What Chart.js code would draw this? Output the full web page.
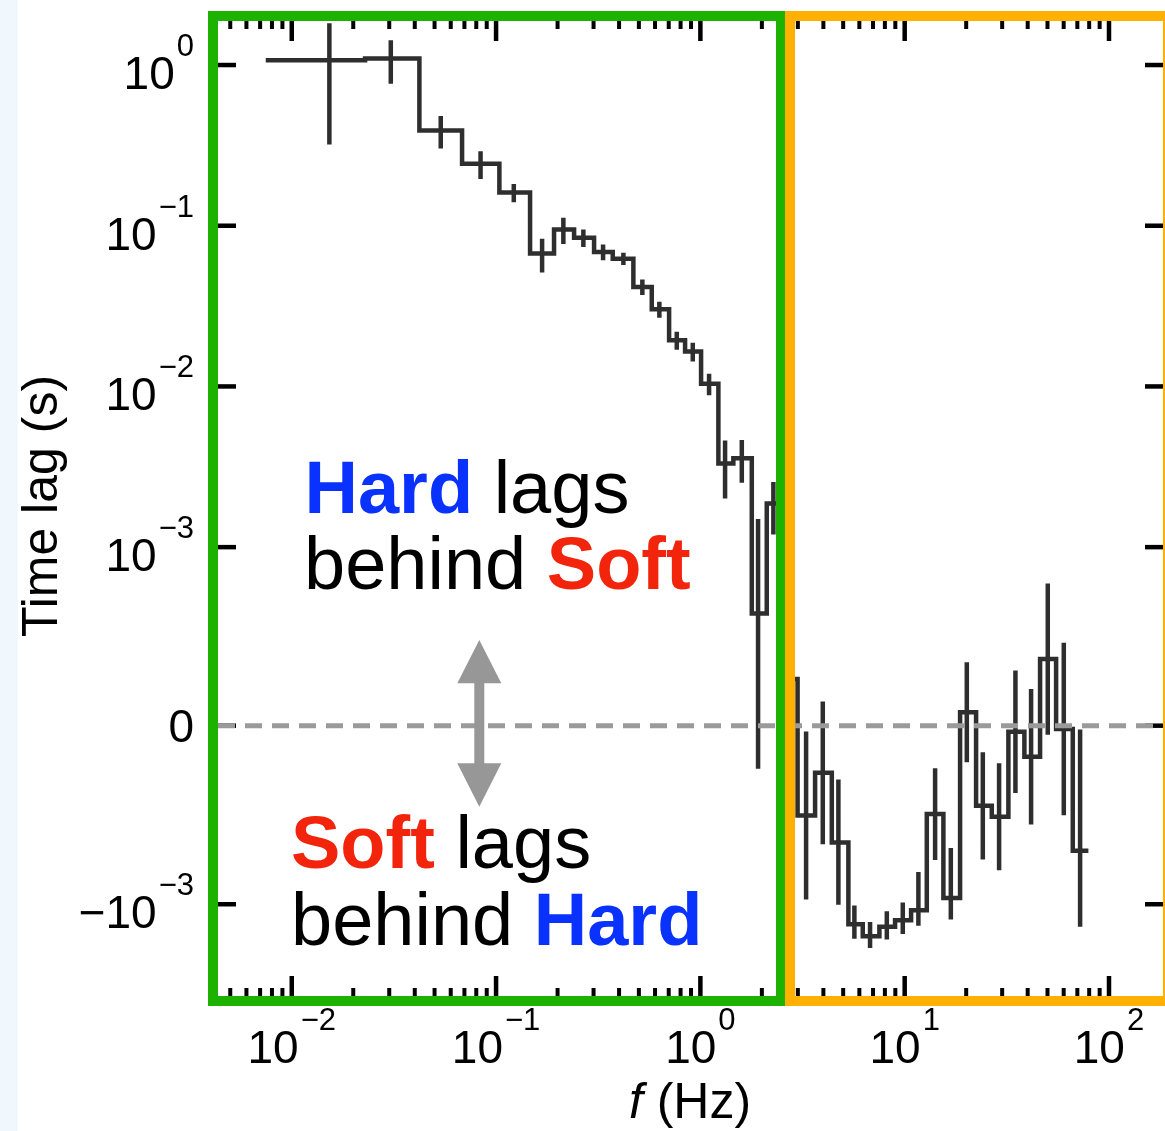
<!DOCTYPE html>
<html>
<head>
<meta charset="utf-8">
<script src="https://cdn.jsdelivr.net/npm/chart.js@4.4.1/dist/chart.umd.min.js"></script>
<style>
  html, body { margin: 0; padding: 0; background: #ffffff; }
  canvas { display: block; }
</style>
</head>
<body>
<canvas id="c" width="1165" height="1131"></canvas>
<script>
// ---------------- data ----------------
// frequency bin edges (Hz), 39 edges -> 38 bins
const binEdges = [0.00746, 0.02285, 0.04214, 0.06817, 0.1038, 0.1467, 0.1922, 0.2409, 0.3018, 0.3725,
  0.4700, 0.5782, 0.7029, 0.8416, 1.008, 1.225, 1.450, 1.785, 2.113, 2.455,
  2.991, 3.643, 4.398, 5.302, 6.235, 7.520, 8.974, 10.75, 12.83, 15.47,
  18.67, 22.36, 26.69, 32.18, 38.54, 45.99, 55.10, 66.49, 79.29];
// representative frequency of each bin (Hz) where the error bar sits
const binCenters = [0.01528, 0.03053, 0.05361, 0.08396, 0.1221, 0.1680, 0.2135, 0.2675, 0.3340, 0.4200,
  0.5200, 0.6299, 0.7664, 0.9179, 1.103, 1.321, 1.595, 1.916, 2.277, 2.718,
  3.292, 3.973, 4.737, 5.673, 6.769, 8.176, 9.788, 11.67, 14.09, 16.82,
  20.14, 24.12, 28.98, 34.84, 41.56, 50.16, 60.08, 72.21];
// time lag (s)
const timeLags = [1.07, 1.096, 0.392, 0.243, 0.161, 0.0671, 0.0946, 0.0843, 0.0686, 0.0624,
  0.0416, 0.0302, 0.0194, 0.0165, 0.0104, 0.00331, 0.00358, 0.000629, 0.00187, 0.000261,
  -0.000503, -0.000264, -0.000654, -0.00133, -0.00158, -0.00138, -0.00126, -0.00109, -0.000495, -0.000965,
  0.000075, -0.000449, -0.000510, -0.0000337, -0.000174, 0.000373, -0.0000185, -0.000701];
// 1-sigma error of the time lag (s)
const lagErrors = [0.75, 0.33, 0.09, 0.048, 0.021, 0.016, 0.0176, 0.0105, 0.0077, 0.0055,
  0.0046, 0.0034, 0.0025, 0.0022, 0.0016, 0.0013, 0.00106, 0.00087, 0.00067, 0.0008,
  0.00047, 0.0004, 0.000353, 0.00031, 0.00029, 0.000275, 0.00027, 0.00027, 0.000257, 0.00028,
  0.00028, 0.0003, 0.0003, 0.000343, 0.00038, 0.000424, 0.000483, 0.00068];

// axis ticks and labels
const xMajorTicks = [0.01, 0.1, 1, 10, 100];
const xTickLabels = [['10', '\u22122'], ['10', '\u22121'], ['10', '0'], ['10', '1'], ['10', '2']];
const yTickValues = [1, 0.1, 0.01, 0.001, 0, -0.001];
const yTickLabels = [['10', '0'], ['10', '\u22121'], ['10', '\u22122'], ['10', '\u22123'], ['0', ''], ['\u221210', '\u22123']];

// axis ranges
const X_MIN = 0.004355, X_MAX = 183.8;
const Y_MIN = -0.003724, Y_MAX = 1.879;
const LIN_THRESH = 1e-3;   // symlog linear threshold
const LIN_SPAN = 1.111;    // size of the linear half-range, in decades

// ---------------- symlog scale ----------------
function symT(v) {
  const a = Math.abs(v);
  if (a <= LIN_THRESH) return v / LIN_THRESH * LIN_SPAN;
  return Math.sign(v) * (LIN_SPAN + Math.log10(a / LIN_THRESH));
}
function symInv(t) {
  const a = Math.abs(t);
  if (a <= LIN_SPAN) return t / LIN_SPAN * LIN_THRESH;
  return Math.sign(t) * LIN_THRESH * Math.pow(10, a - LIN_SPAN);
}
class SymlogScale extends Chart.Scale {
  determineDataLimits() { this.min = this.options.min; this.max = this.options.max; }
  buildTicks() { return yTickValues.map(v => ({ value: v })); }
  getLabelForValue(v) { return String(v); }
  configure() {
    super.configure();
    this._t0 = symT(this.min);
    this._t1 = symT(this.max);
  }
  getPixelForValue(v) { return this.getPixelForDecimal((symT(v) - this._t0) / (this._t1 - this._t0)); }
  getValueForPixel(p) { return symInv(this._t0 + this.getDecimalForPixel(p) * (this._t1 - this._t0)); }
}
SymlogScale.id = 'symlog';
SymlogScale.defaults = {};
Chart.register(SymlogScale);

// ---------------- build datasets from the arrays ----------------
const N = timeLags.length;
const stepPoints = [];
for (let i = 0; i < N; i++) {
  stepPoints.push({ x: binEdges[i], y: timeLags[i] });
  stepPoints.push({ x: binEdges[i + 1], y: timeLags[i] });
}
const errPoints = [];
for (let i = 0; i < N; i++) {
  errPoints.push({ x: binCenters[i], y: timeLags[i] - lagErrors[i] });
  errPoints.push({ x: binCenters[i], y: timeLags[i] + lagErrors[i] });
  errPoints.push({ x: binCenters[i], y: null });
}

const FONT = '"Liberation Sans", Arial, Helvetica, sans-serif';
const MAIN_PX = 46, SUP_PX = 31, TITLE_PX = 50;

function drawPower(ctx, base, exp, x, baseline, align) {
  ctx.font = MAIN_PX + 'px ' + FONT;
  const wb = ctx.measureText(base).width;
  ctx.font = SUP_PX + 'px ' + FONT;
  const we = exp ? ctx.measureText(exp).width + 2 : 0;
  const total = wb + we;
  const x0 = align === 'center' ? x - total / 2 : x - total;
  ctx.textAlign = 'left';
  ctx.textBaseline = 'alphabetic';
  ctx.fillStyle = '#000';
  ctx.font = MAIN_PX + 'px ' + FONT;
  ctx.fillText(base, x0, baseline);
  if (exp) {
    ctx.font = SUP_PX + 'px ' + FONT;
    ctx.fillText(exp, x0 + wb + 2, baseline - 33);
  }
}

function drawRuns(ctx, x, baseline, runs, px) {
  let cx = x;
  ctx.textAlign = 'left';
  ctx.textBaseline = 'alphabetic';
  for (const r of runs) {
    ctx.font = (r.bold ? 'bold ' : '') + (r.italic ? 'italic ' : '') + px + 'px ' + FONT;
    ctx.fillStyle = r.color;
    ctx.fillText(r.t, cx, baseline);
    cx += ctx.measureText(r.t).width;
  }
  return cx;
}

const BLUE = '#0a32ff', RED = '#f2240c', BLACK = '#000000';

const decorPlugin = {
  id: 'decor',
  beforeDraw(chart) {
    const ctx = chart.ctx;
    ctx.save();
    ctx.fillStyle = '#ffffff';
    ctx.fillRect(0, 0, chart.width, chart.height);
    ctx.fillStyle = '#f0f8fe';
    ctx.fillRect(0, 0, 18, chart.height);
    ctx.restore();
  },
  beforeDatasetsDraw(chart) {
    const ctx = chart.ctx, xs = chart.scales.x, ys = chart.scales.y, a = chart.chartArea;
    ctx.save();
    ctx.strokeStyle = '#000';
    ctx.lineCap = 'butt';
    const seg = (x1, y1, x2, y2) => { ctx.beginPath(); ctx.moveTo(x1, y1); ctx.lineTo(x2, y2); ctx.stroke(); };
    for (let d = -3; d <= 2; d++) {
      for (let m = 1; m <= 9; m++) {
        const v = m * Math.pow(10, d);
        if (v < X_MIN || v > X_MAX) continue;
        const px = xs.getPixelForValue(v);
        const major = m === 1;
        const len = major ? 20 : 8;
        ctx.lineWidth = major ? 4.5 : 4;
        seg(px, a.top, px, a.top + len);
        seg(px, a.bottom, px, a.bottom - len);
      }
    }
    ctx.lineWidth = 4.5;
    yTickValues.forEach(v => {
      const py = ys.getPixelForValue(v);
      seg(a.left, py, a.left + 18, py);
      seg(a.right, py, a.right - 18, py);
    });
    ctx.restore();
  },
  afterDatasetsDraw(chart) {
    const ctx = chart.ctx;
    ctx.save();
    // coloured frames
    ctx.lineWidth = 10;
    ctx.lineJoin = 'miter';
    ctx.strokeStyle = '#1db200';
    ctx.strokeRect(213, 16, 568, 985);
    ctx.strokeStyle = '#ffb000';
    ctx.strokeRect(790, 16, 378, 985);
    ctx.restore();
  },
  afterDraw(chart) {
    const ctx = chart.ctx, xs = chart.scales.x, ys = chart.scales.y;
    ctx.save();
    // x tick labels
    xMajorTicks.forEach((v, i) => {
      drawPower(ctx, xTickLabels[i][0], xTickLabels[i][1], xs.getPixelForValue(v), 1063, 'center');
    });
    // y tick labels
    yTickValues.forEach((v, i) => {
      const py = ys.getPixelForValue(v);
      const lab = yTickLabels[i];
      if (lab[1]) drawPower(ctx, lab[0], lab[1], 194, py + 24, 'right');
      else drawPower(ctx, lab[0], '', 194, py + 16.5, 'right');
    });
    // axis titles
    ctx.save();
    ctx.translate(57, 506);
    ctx.rotate(-Math.PI / 2);
    ctx.font = TITLE_PX + 'px ' + FONT;
    ctx.fillStyle = '#000';
    ctx.textAlign = 'center';
    ctx.textBaseline = 'alphabetic';
    ctx.fillText('Time lag (s)', 0, 0);
    ctx.restore();
    {
      ctx.font = 'italic ' + TITLE_PX + 'px ' + FONT;
      const wf = ctx.measureText('f').width;
      ctx.font = TITLE_PX + 'px ' + FONT;
      const wr = ctx.measureText(' (Hz)').width;
      drawRuns(ctx, 690 - (wf + wr) / 2, 1118, [
        { t: 'f', color: BLACK, italic: true },
        { t: ' (Hz)', color: BLACK }
      ], TITLE_PX);
    }
    // annotations
    const TP = 74;
    drawRuns(ctx, 304.5, 513, [{ t: 'Hard', color: BLUE, bold: true }, { t: ' lags', color: BLACK }], TP);
    drawRuns(ctx, 304, 589, [{ t: 'behind ', color: BLACK }, { t: 'Soft', color: RED, bold: true }], TP);
    drawRuns(ctx, 291, 868, [{ t: 'Soft', color: RED, bold: true }, { t: ' lags', color: BLACK }], TP);
    drawRuns(ctx, 291, 945, [{ t: 'behind ', color: BLACK }, { t: 'Hard', color: BLUE, bold: true }], TP);
    // double arrow
    ctx.fillStyle = '#979797';
    ctx.fillRect(474.3, 682, 10, 83);
    ctx.beginPath();
    ctx.moveTo(479.3, 640); ctx.lineTo(501.3, 683.3); ctx.lineTo(457.3, 683.3); ctx.closePath(); ctx.fill();
    ctx.beginPath();
    ctx.moveTo(479.3, 806.7); ctx.lineTo(501.3, 763.3); ctx.lineTo(457.3, 763.3); ctx.closePath(); ctx.fill();
    ctx.restore();
  }
};

new Chart(document.getElementById('c').getContext('2d'), {
  type: 'line',
  data: {
    datasets: [
      { label: 'zero', data: [{ x: X_MIN, y: 0 }, { x: X_MAX, y: 0 }], borderColor: '#9a9a9a', borderWidth: 5,
        borderDash: [17, 10], borderCapStyle: 'butt', pointRadius: 0, order: 0 },
      { label: 'lag', data: stepPoints, borderColor: '#2e2e2e', borderWidth: 4.5, borderJoinStyle: 'miter',
        borderCapStyle: 'butt', pointRadius: 0, tension: 0, order: 1 },
      { label: 'err', data: errPoints, borderColor: '#2e2e2e', borderWidth: 4.5, borderCapStyle: 'butt',
        pointRadius: 0, spanGaps: false, order: 2 }
    ]
  },
  options: {
    responsive: false,
    animation: false,
    events: [],
    layout: { padding: { left: 218, top: 21, right: 2, bottom: 135 } },
    scales: {
      x: { type: 'logarithmic', min: X_MIN, max: X_MAX, bounds: 'data', display: false },
      y: { type: 'symlog', min: Y_MIN, max: Y_MAX, display: false }
    },
    plugins: { legend: { display: false }, tooltip: { enabled: false }, title: { display: false } }
  },
  plugins: [decorPlugin]
});
</script>
</body>
</html>
